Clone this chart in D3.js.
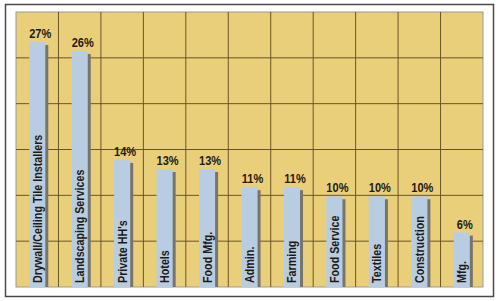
<!DOCTYPE html>
<html>
<head>
<meta charset="utf-8">
<script src="https://cdn.jsdelivr.net/npm/d3@7"></script>
<style>
  body { margin: 0; background: #fff; }
</style>
</head>
<body>
<svg width="500" height="301"></svg>
<script>
var categories = ["Drywall/Ceiling Tile Installers", "Landscaping Services", "Private HH's", "Hotels",
  "Food Mfg.", "Admin.", "Farming", "Food Service", "Textiles", "Construction", "Mfg."];
var values = [27, 26, 14, 13, 13, 11, 11, 10, 10, 10, 6];

var svg = d3.select("svg"),
    margin = {top: 12, right: 17, bottom: 14, left: 16},
    width = svg.attr("width") - margin.left - margin.right,
    height = svg.attr("height") - margin.top - margin.bottom;

// outer frame
svg.append("rect")
    .attr("x", 5.5).attr("y", 4.5)
    .attr("width", 488).attr("height", 292)
    .attr("fill", "#fff")
    .attr("stroke", "#4a4a4a")
    .attr("stroke-width", 1.5);

var g = svg.append("g").attr("transform", "translate(" + margin.left + "," + margin.top + ")");

var x = d3.scaleBand()
    .domain(categories)
    .range([0, width])
    .paddingInner(0.62)
    .paddingOuter(0.31);

var y = d3.scaleLinear().domain([0, 30.3]).range([height, 0]);

g.append("rect")
    .attr("width", width)
    .attr("height", height)
    .attr("fill", "#eacf7b")
    .attr("stroke", "#9a9a9a")
    .attr("stroke-width", 1);

// grid: one column per category, six horizontal bands
g.selectAll(".vgrid")
    .data(d3.range(1, categories.length))
    .enter().append("line")
    .attr("class", "vgrid")
    .attr("x1", function(i) { return i * x.step(); })
    .attr("x2", function(i) { return i * x.step(); })
    .attr("y1", 0).attr("y2", height)
    .attr("stroke", "#6b5524")
    .attr("stroke-width", 1);

g.selectAll(".hgrid")
    .data(d3.range(1, 6))
    .enter().append("line")
    .attr("class", "hgrid")
    .attr("x1", 0).attr("x2", width)
    .attr("y1", function(i) { return i * height / 6; })
    .attr("y2", function(i) { return i * height / 6; })
    .attr("stroke", "#6b5524")
    .attr("stroke-width", 1);

var bar = g.selectAll(".bar")
    .data(values)
    .enter().append("g")
    .attr("class", "bar");

// shadow behind each bar
bar.append("rect")
    .attr("x", function(d, i) { return x(categories[i]) + 3; })
    .attr("y", function(d) { return y(d) + 3; })
    .attr("width", x.bandwidth())
    .attr("height", function(d) { return height - y(d) - 3; })
    .attr("fill", "#77746c");

bar.append("rect")
    .attr("x", function(d, i) { return x(categories[i]); })
    .attr("y", function(d) { return y(d); })
    .attr("width", x.bandwidth())
    .attr("height", function(d) { return height - y(d); })
    .attr("fill", "#b9cde2");

// condensed look: Liberation Sans Bold squeezed horizontally
bar.append("text")
    .attr("transform", function(d, i) {
      return "translate(" + (x(categories[i]) + x.bandwidth() / 2 + 3) + "," + (y(d) - 4) + ") scale(0.85,1)";
    })
    .attr("text-anchor", "middle")
    .style("font", "bold 13px 'Liberation Sans', Arial, sans-serif")
    .attr("fill", "#1e1a14")
    .text(function(d) { return d + "%"; });

bar.append("text")
    .attr("transform", function(d, i) {
      return "translate(" + (x(categories[i]) + x.bandwidth() / 2 + 4.5) + "," + (height - 4) + ") rotate(-90) scale(0.86,1)";
    })
    .style("font", "bold 12.5px 'Liberation Sans', Arial, sans-serif")
    .attr("fill", "#1e1a14")
    .text(function(d, i) { return categories[i]; });
</script>
</body>
</html>
